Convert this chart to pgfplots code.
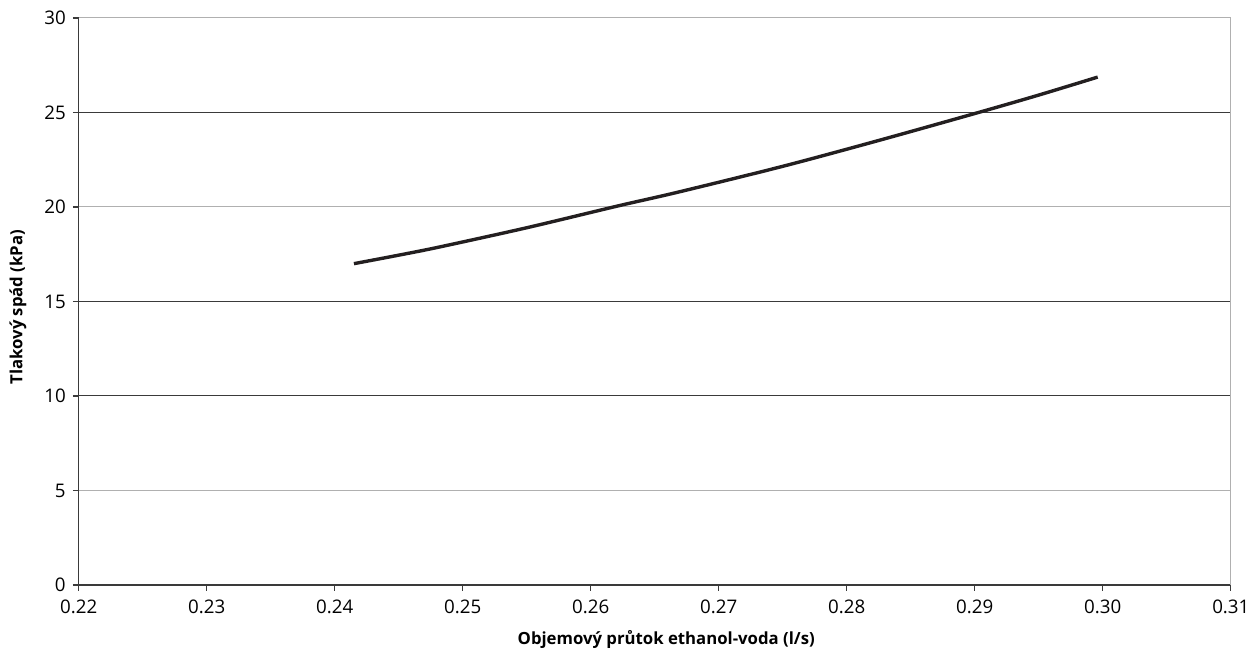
\documentclass[border=0pt]{standalone}
\usepackage{pgfplots}
\pgfplotsset{compat=1.18}
\usepackage{fontspec}
\setmainfont{Open Sans}
\definecolor{gridd}{HTML}{3A3A3A}
\definecolor{gridl}{HTML}{B0B0B0}
\definecolor{curve}{HTML}{231F20}
\pgfplotstableread{
x y
0.2415 17.00
0.2450 17.45
0.2481 17.87
0.2550 18.90
0.2621 20.05
0.2668 20.78
0.2750 22.15
0.2824 23.50
0.2903 25.00
0.2950 25.92
0.2996 26.87
}\datatable
\begin{document}
\begin{tikzpicture}
\begin{axis}[
  scale only axis,
  width=578pt, height=284.5pt,
  xmin=0.22, xmax=0.31, ymin=0, ymax=30,
  axis x line*=bottom, axis y line*=left,
  axis line style={gridd, line width=0.6pt},
  tick align=outside,
  major tick length=3pt,
  tick style={gridd, line width=0.6pt},
  xtick={0.22,0.23,...,0.311},
  ytick={0,10,15,25},
  extra y ticks={5,20,30},
  extra y tick style={grid=major, major grid style={gridl, line width=0.5pt}},
  extra x ticks={0.31},
  extra x tick labels={},
  extra x tick style={grid=major, major grid style={gridl, line width=0.6pt}, major tick length=0pt},
  ymajorgrids,
  major grid style={gridd, line width=0.5pt},
  /pgf/number format/assume math mode=true,
  xticklabel style={/pgf/number format/fixed, /pgf/number format/fixed zerofill, /pgf/number format/precision=2, yshift=-1pt},
  ticklabel style={font=\fontsize{9.4}{11}\selectfont, text=black},
  xlabel={\textbf{Objemový průtok ethanol-voda (l/s)}},
  ylabel={\textbf{Tlakový spád (kPa)}},
  label style={font=\fontsize{8.4}{10}\selectfont},
  xlabel style={at={(axis description cs:0.51,-0.0967)}, anchor=center},
  ylabel style={at={(axis description cs:-0.0528,0.49)}, anchor=center},
  clip=false,
]
\addplot[curve, line width=1.7pt, smooth] table[x=x, y=y] {\datatable};
\end{axis}
\path (current axis.south west) ++(-39.5pt,-32pt) coordinate (bbA);
\path (current axis.north east) ++(10.5pt,9pt) coordinate (bbB);
\path (bbA) rectangle (bbB);
\end{tikzpicture}
\end{document}
